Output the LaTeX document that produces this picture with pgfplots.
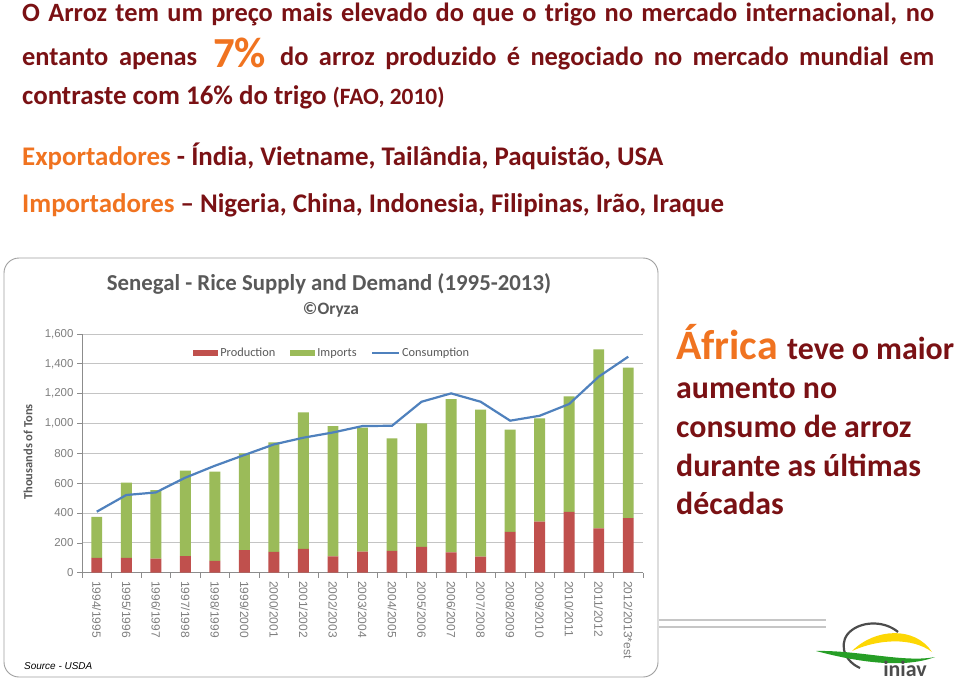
\documentclass[border=0pt]{standalone}
\usepackage{pgfplots}
\pgfplotsset{compat=1.18}
\usepackage{pgfplotstable}
\usepackage{fontspec}
\setmainfont{Carlito}
\newfontfamily\arialfont{Liberation Sans}
\definecolor{dred}{HTML}{7A1114}
\definecolor{orng}{HTML}{F07320}
\definecolor{prodred}{HTML}{C0504D}
\definecolor{impgreen}{HTML}{9BBB59}
\definecolor{consblue}{HTML}{4F81BD}
\definecolor{titlegray}{HTML}{595959}
\definecolor{tickgray}{HTML}{7F7F7F}
\definecolor{gridgray}{HTML}{C4C4C4}
\definecolor{axisgray}{HTML}{8C8C8C}

\pgfplotstableread{
x prod imp cons
0 100 275 409
1 100 503 521
2 94 460 538
3 112 572 637
4 80 597 717
5 152 648 789
6 139 735 860
7 159 916 905
8 110 873 940
9 141 831 983
10 147 753 985
11 174 827 1146
12 136 1028 1202
13 107 986 1146
14 273 686 1019
15 342 693 1052
16 407 775 1131
17 297 1200 1314
18 366 1008 1448
}\datatable

\begin{document}
\begin{tikzpicture}[x=1bp,y=-1bp]
\path[use as bounding box] (0,0) rectangle (960,685);

% top text
\node[anchor=base west, inner sep=0, text=dred, font=\bfseries\fontsize{26.5}{26.5}\selectfont] at (22,22)
  {\makebox[912bp][s]{O Arroz tem um preço mais elevado do que o trigo no mercado internacional, no}};
\node[anchor=base west, inner sep=0, text=dred, font=\bfseries\fontsize{26.5}{26.5}\selectfont] at (22,66)
  {\makebox[175bp][s]{entanto apenas}};
\node[anchor=base west, inner sep=0, text=orng, font=\bfseries\fontsize{43}{43}\selectfont] at (213,68) {7\%};
\node[anchor=base west, inner sep=0, text=dred, font=\bfseries\fontsize{26.5}{26.5}\selectfont] at (280,66)
  {\makebox[654bp][s]{do arroz produzido é negociado no mercado mundial em}};
\node[anchor=base west, inner sep=0, text=dred, font=\bfseries\fontsize{27}{27}\selectfont] at (22,105)
  {contraste com 16\% do trigo {\fontsize{23.5}{23.5}\selectfont(FAO, 2010)}};
\node[anchor=base west, inner sep=0, text=dred, font=\bfseries\fontsize{27}{27}\selectfont] at (22,166)
  {\textcolor{orng}{Exportadores} - Índia, Vietname, Tailândia, Paquistão, USA};
\node[anchor=base west, inner sep=0, text=dred, font=\bfseries\fontsize{27}{27}\selectfont] at (22,212)
  {\textcolor{orng}{Importadores} – Nigeria, China, Indonesia, Filipinas, Irão, Iraque};

% right text
\node[anchor=base west, inner sep=0, text=orng, font=\bfseries\fontsize{42}{42}\selectfont] at (676,359) {África};
\node[anchor=base west, inner sep=0, text=dred, font=\bfseries\fontsize{32}{32}\selectfont] at (787,359) {teve o maior};
\node[anchor=base west, inner sep=0, text=dred, font=\bfseries\fontsize{32}{32}\selectfont] at (676,398) {aumento no};
\node[anchor=base west, inner sep=0, text=dred, font=\bfseries\fontsize{32}{32}\selectfont] at (676,437) {consumo de arroz};
\node[anchor=base west, inner sep=0, text=dred, font=\bfseries\fontsize{32}{32}\selectfont] at (676,476) {durante as últimas};
\node[anchor=base west, inner sep=0, text=dred, font=\bfseries\fontsize{32}{32}\selectfont] at (676,514) {décadas};

% chart frame
\draw[draw=gray!75, line width=0.9bp, rounded corners=15bp, fill=white] (4,258) rectangle (658,677);

% chart titles
\node[anchor=base, inner sep=0, text=titlegray, font=\bfseries\fontsize{22.9}{22.9}\selectfont] at (329,290) {Senegal - Rice Supply and Demand (1995-2013)};
\node[anchor=base, inner sep=0, text=titlegray, font=\bfseries\fontsize{17.5}{17.5}\selectfont] at (331,314) {©Oryza};
\node[rotate=90, inner sep=0, text=titlegray, font=\bfseries\fontsize{12.5}{12.5}\selectfont] at (28,452) {Thousands of Tons};
\node[anchor=base west, inner sep=0, font=\arialfont\itshape\fontsize{10}{10}\selectfont] at (24,669) {Source - USDA};

\begin{axis}[
  at={(82bp,-572.7bp)}, anchor=south west,
  width=561bp, height=238.7bp, scale only axis,
  xmin=-0.5, xmax=18.5, ymin=0, ymax=1600,
  ybar stacked, bar width=0.37,
  axis x line*=bottom, axis y line*=left,
  axis line style={-, draw=axisgray, line width=0.7bp},
  ytick={0,200,...,1600},
  ymajorgrids, grid style={draw=gridgray, line width=0.9bp},
  xtick={0,...,18},
  xticklabels={1994/1995,1995/1996,1996/1997,1997/1998,1998/1999,1999/2000,2000/2001,2001/2002,2002/2003,2003/2004,2004/2005,2005/2006,2006/2007,2007/2008,2008/2009,2009/2010,2010/2011,2011/2012,2012/2013*est},
  minor xtick={-0.5,0.5,...,18.5},
  every major x tick/.append style={draw=none},
  tick align=outside,
  major tick length=5bp, minor tick length=5bp,
  tick style={draw=axisgray, line width=0.7bp},
  /pgf/number format/assume math mode=true,
  /pgf/number format/1000 sep={,},
  yticklabel style={font=\arialfont\fontsize{11.5}{12}\selectfont, text=tickgray},
  xticklabel style={rotate=-90, anchor=west, font=\arialfont\fontsize{12}{12}\selectfont, text=tickgray},
  legend columns=3,
  legend style={draw=none, fill=none, at={(0.198,0.92)}, anchor=west, inner sep=0pt,
    font=\fontsize{12.4}{13}\selectfont, text=titlegray,
    /tikz/every even column/.append style={column sep=13bp}},
]
\addplot[fill=prodred, draw=none,
  legend image code/.code={\fill[prodred] (0bp,-3bp) rectangle (25bp,3bp);}]
  table[x=x,y=prod]{\datatable};
\addlegendentry{Production}
\addplot[fill=impgreen, draw=none,
  legend image code/.code={\fill[impgreen] (0bp,-3bp) rectangle (25bp,3bp);}]
  table[x=x,y=imp]{\datatable};
\addlegendentry{Imports}
\addlegendimage{legend image code/.code={\draw[consblue, line width=1.5bp] (0bp,0bp) -- (27bp,0bp);}}
\addlegendentry{Consumption}
\end{axis}

\begin{axis}[
  at={(82bp,-572.7bp)}, anchor=south west,
  width=561bp, height=238.7bp, scale only axis,
  xmin=-0.5, xmax=18.5, ymin=0, ymax=1600, hide axis]
\addplot[consblue, line width=2.2bp, no markers] table[x=x,y=cons]{\datatable};
\end{axis}

% decorative lines and logo
\draw[draw=gray!45, line width=2bp] (659,620) -- (826,620);
\draw[draw=gray!45, line width=2bp] (659,627) -- (826,627);
\draw[draw=gray!60!black, line width=2.2bp] (860,668) .. controls (842,660) and (838,640) .. (852,630) .. controls (864,621) and (885,621) .. (898,632);
\fill[yellow!75!orange] (852,651) .. controls (875,628) and (915,626) .. (932,652) .. controls (912,637) and (878,639) .. (852,651) -- cycle;
\fill[green!55!black!85] (816,651) .. controls (850,660) and (900,670) .. (935,657) .. controls (905,663) and (858,650) .. (816,651) -- cycle;
\node[inner sep=0, text=gray!60!black, font=\bfseries\fontsize{22}{22}\selectfont] at (905,669) {iniav};
\end{tikzpicture}
\end{document}
